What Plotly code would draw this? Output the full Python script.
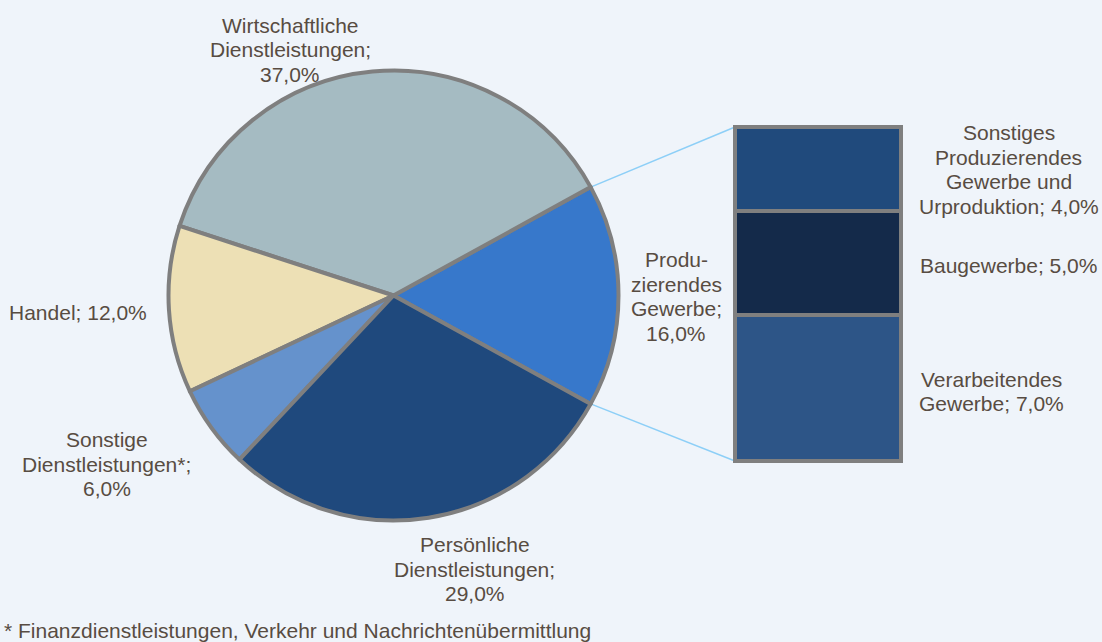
import math
import plotly.graph_objects as go

# Anteile in Prozent
pie_labels = ["Produzierendes Gewerbe", "Wirtschaftliche Dienstleistungen", "Handel",
              "Sonstige Dienstleistungen*", "Persönliche Dienstleistungen"]
pie_values = [16.0, 37.0, 12.0, 6.0, 29.0]
pie_colors = ["#3778CB", "#A5BBC2", "#EDE0B5", "#6592CC", "#1F497D"]
pie_text = ["Produ-<br>zierendes<br>Gewerbe;<br>", "Wirtschaftliche<br>Dienstleistungen;<br>", "Handel; ",
            "Sonstige<br>Dienstleistungen*;<br>", "Persönliche<br>Dienstleistungen;<br>"]

# Aufteilung Produzierendes Gewerbe (von unten nach oben)
bar_labels = ["Verarbeitendes Gewerbe", "Baugewerbe", "Sonstiges Produzierendes Gewerbe und Urproduktion"]
bar_values = [7.0, 5.0, 4.0]
bar_colors = ["#2D5587", "#142A4A", "#204A7C"]
bar_text = ["Verarbeitendes<br>Gewerbe; ", "Baugewerbe; ",
            "Sonstiges<br>Produzierendes<br>Gewerbe und<br>Urproduktion; "]

footnote = "* Finanzdienstleistungen, Verkehr und Nachrichtenübermittlung"

W, H = 1102, 642
BG = "#EFF4FA"
TXT = "#584C42"
FONT = "Liberation Sans, Arial, sans-serif"
FS = 21
LH = 24.5
EDGE = "#7F7F7F"


def px(x):
    return x / W


def py(y):
    return 1 - y / H


def pct(v):
    return f"{v:.1f}%".replace(".", ",")


def label(fig, text, x, y):
    # jede Zeile einzeln, damit der Zeilenabstand stimmt
    lines = text.split("<br>")
    n = len(lines)
    for i, ln in enumerate(lines):
        fig.add_annotation(text=ln, x=px(x), y=py(y), xref="paper", yref="paper",
                           yshift=-(i - (n - 1) / 2) * LH, showarrow=False,
                           xanchor="center", yanchor="middle")


# Kreis-Geometrie (Pixel)
cx, cy, r = 393.5, 295.5, 225
half = pie_values[0] / sum(pie_values) * 360 / 2

fig = go.Figure()

fig.add_trace(go.Pie(
    labels=pie_labels,
    values=pie_values,
    sort=False,
    direction="counterclockwise",
    rotation=90 - half,
    marker=dict(colors=pie_colors, line=dict(color=EDGE, width=4)),
    textinfo="none",
    hovertemplate="%{label}: %{value:.1f}%<extra></extra>",
    domain=dict(x=[px(cx - r), px(cx + r)], y=[py(cy + r), py(cy - r)]),
    showlegend=False,
))

for lab, val, col in zip(bar_labels, bar_values, bar_colors):
    fig.add_trace(go.Bar(
        x=[0], y=[val], width=1, name=lab,
        marker=dict(color=col, line=dict(color=EDGE, width=4)),
        hovertemplate=lab + ": %{y:.1f}%<extra></extra>",
        showlegend=False,
    ))

# Balken-Achsen so, dass die Umrandung nicht abgeschnitten wird
bx0, bx1 = 728, 908
by_top, by_bot = 120, 468
b_top, b_bot = 127, 461
bar_total = sum(bar_values)
unit = (b_bot - b_top) / bar_total
ylo = -(by_bot - b_bot) / unit
yhi = bar_total + (b_top - by_top) / unit
xr = 0.5 * (bx1 - bx0) / 166

fig.update_layout(
    width=W, height=H,
    margin=dict(l=0, r=0, t=0, b=0),
    paper_bgcolor=BG, plot_bgcolor=BG,
    barmode="stack",
    xaxis=dict(domain=[px(bx0), px(bx1)], range=[-xr, xr], visible=False, fixedrange=True),
    yaxis=dict(domain=[py(by_bot), py(by_top)], range=[ylo, yhi], visible=False, fixedrange=True),
    font=dict(family=FONT, size=FS, color=TXT),
)

# Verbindungslinien vom Kreis zum Balken
a = math.radians(half)
ex = cx + r * math.cos(a)
for sy, yv in [(-1, b_top), (1, b_bot)]:
    ey = cy + sy * r * math.sin(a)
    fig.add_shape(type="line", xref="paper", yref="paper",
                  x0=px(ex), y0=py(ey), x1=px(735), y1=py(yv),
                  line=dict(color="#8DCFF7", width=1.5), layer="below")

# Beschriftungen Kreis
pie_pos = [(676, 296.5), (290, 49.5), (78, 312), (107, 464), (475, 569)]
for t, v, (x, y) in zip(pie_text, pie_values, pie_pos):
    label(fig, t + pct(v), x, y)

# Beschriftungen Balken
bar_pos = [(991, 391.5), (1008, 265), (1009, 169.5)]
for t, v, (x, y) in zip(bar_text, bar_values, bar_pos):
    label(fig, t + pct(v), x, y)

fig.add_annotation(text=footnote, x=px(2), y=py(630), xref="paper", yref="paper",
                   showarrow=False, xanchor="left", yanchor="middle")

fig.write_html("out.html", config={"displayModeBar": False},
               post_script="document.body.style.margin='0';")
